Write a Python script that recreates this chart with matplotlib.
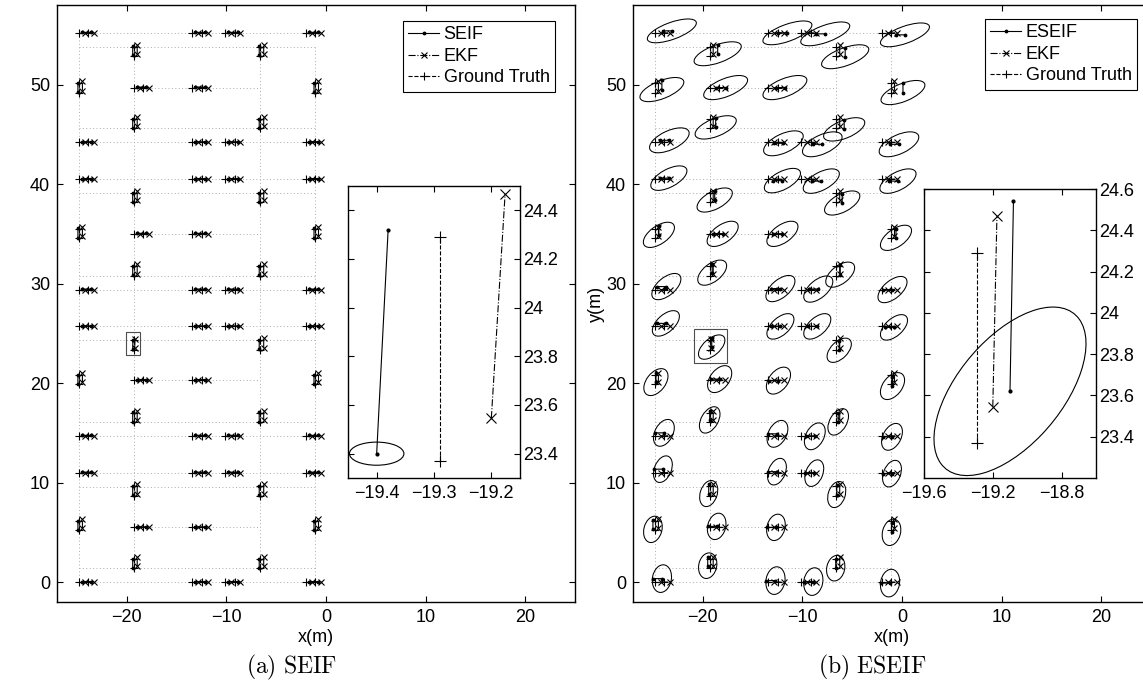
import numpy as np
import matplotlib
matplotlib.use("Agg")
import matplotlib.pyplot as plt
from matplotlib.patches import Ellipse, Rectangle
from matplotlib.ticker import FuncFormatter

plt.rcParams['font.family'] = ['Liberation Sans', 'DejaVu Sans']
plt.rcParams['mathtext.fontset'] = 'cm'

# ------------------------------------------------------------------ data
pair_gap = 0.92  # spacing of the two landmarks of one group (m)

grp_dir = ['h', 'h', 'h', 'h',
           'v', 'v',
           'v', 'h', 'h', 'v',
           'v', 'v',
           'h', 'h', 'h', 'h',
           'h', 'h', 'h', 'h',
           'v', 'v',
           'v', 'h', 'h', 'v',
           'v', 'v',
           'h', 'h', 'h', 'h',
           'h', 'h', 'h', 'h',
           'v',
           'v', 'h', 'h', 'v',
           'v', 'v',
           'h', 'h', 'h', 'h',
           'h', 'h', 'h', 'h',
           'v', 'v',
           'v', 'h', 'h', 'v',
           'v', 'v',
           'h', 'h', 'h', 'h']
grp_x = [-24.8, -13.4, -10.1, -2.0,
         -19.3, -6.6,
         -24.8, -19.3, -13.4, -1.1,
         -19.3, -6.6,
         -24.8, -13.4, -10.1, -2.0,
         -24.8, -13.4, -10.1, -2.0,
         -19.3, -6.6,
         -24.8, -19.3, -13.4, -1.1,
         -19.3, -6.6,
         -24.8, -13.4, -10.1, -2.0,
         -24.8, -13.4, -10.1, -2.0,
         -6.6,
         -24.8, -19.3, -13.4, -1.1,
         -19.3, -6.6,
         -24.8, -13.4, -10.1, -2.0,
         -24.8, -13.4, -10.1, -2.0,
         -19.3, -6.6,
         -24.8, -19.3, -13.4, -1.1,
         -19.3, -6.6,
         -24.8, -13.4, -10.1, -2.0]
grp_y = [55.2, 55.2, 55.2, 55.2,
         52.9, 52.9,
         49.2, 49.7, 49.7, 49.2,
         45.6, 45.6,
         44.2, 44.2, 44.2, 44.2,
         40.5, 40.5, 40.5, 40.5,
         38.2, 38.2,
         34.6, 35.0, 35.0, 34.6,
         30.8, 30.8,
         29.4, 29.4, 29.4, 29.4,
         25.7, 25.7, 25.7, 25.7,
         23.37,
         19.9, 20.3, 20.3, 19.9,
         16.1, 16.1,
         14.7, 14.7, 14.7, 14.7,
         11.0, 11.0, 11.0, 11.0,
         8.7, 8.7,
         5.2, 5.5, 5.5, 5.2,
         1.4, 1.4,
         0.0, 0.0, 0.0, 0.0]

# ESEIF covariance ellipses (main panel, right)
ell_x = [-23.1, -11.5, -7.7, 0.3,
         -18.5, -5.7,
         -24.1, -17.7, -11.75, 0.1,
         -18.7, -5.8,
         -23.35, -11.9, -8.0, -0.3,
         -23.4, -12.0, -8.1, -0.4,
         -18.8, -6.0,
         -24.4, -18.0, -12.0, -0.6,
         -19.05, -6.2,
         -23.65, -12.2, -8.4, -0.95,
         -23.7, -12.2, -8.5, -0.8,
         -6.3,
         -24.7, -18.3, -12.4, -0.95,
         -19.3, -6.4,
         -23.9, -12.5, -8.75, -1.0,
         -24.0, -12.55, -8.8, -1.0,
         -19.4, -6.55,
         -25.0, -18.6, -12.65, -1.05,
         -19.5, -6.65,
         -24.1, -12.7, -8.9, -1.2]
ell_y = [55.4, 55.2, 55.1, 55.0,
         53.1, 52.8,
         49.5, 49.7, 49.7, 49.2,
         45.7, 45.5,
         44.4, 44.1, 44.0, 44.0,
         40.6, 40.35, 40.3, 40.3,
         38.4, 38.1,
         34.9, 35.0, 35.0, 34.6,
         31.1, 30.9,
         29.7, 29.5, 29.45, 29.4,
         26.0, 25.7, 25.7, 25.6,
         23.3,
         20.1, 20.4, 20.25, 19.7,
         16.3, 16.1,
         15.0, 14.9, 14.65, 14.6,
         11.35, 11.1, 10.95, 10.9,
         8.9, 8.8,
         5.3, 5.6, 5.5, 5.0,
         1.65, 1.4,
         0.35, 0.15, 0.05, -0.1]
ell_w = [5.2, 5.2, 5.2, 5.2,
         5.0, 5.0,
         4.7, 4.7, 4.7, 4.7,
         4.4, 4.4,
         4.3, 4.3, 4.3, 4.3,
         4.0, 4.0, 4.0, 4.0,
         3.9, 3.9,
         3.6, 3.6, 3.6, 3.6,
         3.4, 3.4,
         3.5, 3.5, 3.5, 3.5,
         3.3, 3.3, 3.3, 3.3,
         3.0,
         3.1, 3.1, 3.1, 3.1,
         2.9, 2.9,
         2.9, 2.9, 2.9, 2.9,
         2.8, 2.8, 2.8, 2.8,
         2.7, 2.7,
         2.7, 2.7, 2.7, 2.7,
         2.6, 2.6,
         2.8, 2.8, 2.8, 2.8]
ell_h = [1.7, 1.7, 1.7, 1.7,
         1.8, 1.8,
         1.8, 1.8, 1.8, 1.8,
         1.8, 1.8,
         1.9, 1.9, 1.9, 1.9,
         1.8, 1.8, 1.8, 1.8,
         1.8, 1.8,
         1.8, 1.8, 1.8, 1.8,
         1.8, 1.8,
         1.8, 1.8, 1.8, 1.8,
         1.75, 1.75, 1.75, 1.75,
         1.7,
         1.9, 1.9, 1.9, 1.9,
         1.7, 1.7,
         1.8, 1.8, 1.8, 1.8,
         1.7, 1.7, 1.7, 1.7,
         1.7, 1.7,
         1.8, 1.8, 1.8, 1.8,
         1.8, 1.8,
         1.9, 1.9, 1.9, 1.9]
ell_ang = [20, 20, 20, 20,
           20, 20,
           22, 22, 22, 22,
           22, 22,
           25, 25, 25, 25,
           28, 28, 28, 28,
           28, 28,
           35, 35, 35, 35,
           38, 38,
           40, 40, 40, 40,
           42, 42, 42, 42,
           45,
           52, 52, 52, 52,
           60, 60,
           62, 62, 62, 62,
           68, 68, 68, 68,
           72, 72,
           75, 75, 75, 75,
           78, 78,
           80, 80, 80, 80]

# estimate offsets from ground truth: (along group, perpendicular)
ekf_off = {'h': (0.60, 0.00), 'v': (0.20, 0.35)}
seif_off = {'h': (0.30, 0.05), 'v': (0.03, -0.10)}

# zoomed landmark pair (boxed)
box_gt_x = [-19.29, -19.29]
box_gt_y = [23.37, 24.29]
box_ekf_x = [-19.20, -19.176]
box_ekf_y = [23.546, 24.467]
box_seif_x = [-19.40, -19.38]
box_seif_y = [23.40, 24.32]
box_eseif_x = [-19.10, -19.08]
box_eseif_y = [23.62, 24.54]
box_seif_ell = (0.095, 0.095, 0.0)      # w, h, angle (inset)
box_eseif_ell = (1.066, 0.558, 41.0)    # w, h, angle (inset)
box_eseif_ell_main = (3.2, 1.67, 41.0)  # 3-sigma version in main panel

# dotted robot path
path_full_y = [55.2, 53.8, 45.6, 44.2, 40.5, 39.1, 30.8, 29.4,
               25.7, 24.3, 16.1, 14.7, 11.0, 9.6, 1.4, 0.0]
path_full_x = (-24.8, -1.1)
path_part_y = [49.7, 35.0, 20.3, 5.5]
path_part_x = (-19.3, -6.6)
path_v_x = [-24.8, -19.3, -6.6, -1.1]
path_v_y0 = [0.0, 1.4, 1.4, 0.0]
path_v_y1 = [55.2, 53.8, 53.8, 53.8]


# ------------------------------------------------------------------ helpers
def pair_xy(off, xs_extra, ys_extra):
    xs, ys = [], []
    for d, gx, gy in zip(grp_dir, grp_x, grp_y):
        a, p = off[d] if off is not None else (0.0, 0.0)
        if d == 'h':
            xs += [gx + a, gx + pair_gap + a, np.nan]
            ys += [gy + p, gy + p, np.nan]
        else:
            xs += [gx + p, gx + p, np.nan]
            ys += [gy + a, gy + pair_gap + a, np.nan]
    xs += list(xs_extra) + [np.nan]
    ys += list(ys_extra) + [np.nan]
    return np.array(xs), np.array(ys)


def eseif_xy():
    xs, ys = [], []
    for d, cx, cy in zip(grp_dir, ell_x, ell_y):
        if d == 'h':
            xs += [cx - pair_gap, cx, np.nan]
            ys += [cy, cy, np.nan]
        else:
            xs += [cx, cx, np.nan]
            ys += [cy, cy + pair_gap, np.nan]
    xs += box_eseif_x + [np.nan]
    ys += box_eseif_y + [np.nan]
    return np.array(xs), np.array(ys)


gt_x, gt_y = pair_xy(None, box_gt_x, box_gt_y)
ekf_x, ekf_y = pair_xy(ekf_off, box_ekf_x, box_ekf_y)
seif_x, seif_y = pair_xy(seif_off, box_seif_x, box_seif_y)
es_x, es_y = eseif_xy()

fmt = FuncFormatter(lambda v, p: ('%g' % round(v, 6)).replace('-', '\u2212'))

W, H = 1143, 691
fig = plt.figure(figsize=(W / 100, H / 100), dpi=100)


def px_axes(x0, y0, x1, y1, **kw):
    return fig.add_axes([x0 / W, 1 - y1 / H, (x1 - x0) / W, (y1 - y0) / H], **kw)


LW = 0.8
MS = 5.5
style_gt = dict(color='k', ls='--', marker='+', lw=LW, ms=MS, mew=0.8)
style_ekf = dict(color='k', ls='-.', marker='x', lw=LW, ms=MS - 0.5, mew=0.8)
style_est = dict(color='k', ls='-', marker='.', lw=LW, ms=3.5)
path_style = dict(color='0.68', ls=(0, (1, 2.5)), lw=0.7, zorder=1)


def draw_main(ax, est_x, est_y):
    for yy in path_full_y:
        ax.plot(path_full_x, (yy, yy), **path_style)
    for yy in path_part_y:
        ax.plot(path_part_x, (yy, yy), **path_style)
    for xx, y0, y1 in zip(path_v_x, path_v_y0, path_v_y1):
        ax.plot((xx, xx), (y0, y1), **path_style)
    h_gt, = ax.plot(gt_x, gt_y, zorder=3, **style_gt)
    h_ekf, = ax.plot(ekf_x, ekf_y, zorder=3, **style_ekf)
    h_est, = ax.plot(est_x, est_y, zorder=4, **style_est)
    ax.set_xlim(-27, 25)
    ax.set_ylim(-2, 58)
    ax.set_xticks([-20, -10, 0, 10, 20])
    ax.set_yticks([0, 10, 20, 30, 40, 50])
    ax.xaxis.set_major_formatter(fmt)
    ax.yaxis.set_major_formatter(fmt)
    ax.tick_params(direction='in', top=True, right=True, length=4, width=0.8,
                   labelsize=13, pad=5)
    for s in ax.spines.values():
        s.set_linewidth(1.0)
    ax.set_xlabel('x(m)', fontsize=13, labelpad=2)
    return h_est, h_ekf, h_gt


def style_inset(ax, xlim, ylim, xt, yt):
    ax.set_xlim(*xlim)
    ax.set_ylim(*ylim)
    ax.set_xticks(xt)
    ax.set_yticks(yt)
    ax.xaxis.set_major_formatter(fmt)
    ax.yaxis.set_major_formatter(fmt)
    ax.yaxis.tick_right()
    ax.tick_params(direction='in', top=True, left=True, right=True, bottom=True,
                   labelleft=False, labelright=True, length=4, width=0.8,
                   labelsize=13)
    ax.tick_params(axis='y', pad=2)
    ax.tick_params(axis='x', pad=5)
    for s in ax.spines.values():
        s.set_linewidth(1.0)


leg_kw = dict(fontsize=13, frameon=True, fancybox=False, edgecolor='k',
              framealpha=1, handlelength=1.7, handletextpad=0.25,
              borderpad=0.3, labelspacing=0.25, borderaxespad=0, numpoints=1)

# ------------------------------------------------------------------ left: SEIF
axL = px_axes(57, 5, 575, 602)
hs = draw_main(axL, seif_x, seif_y)
axL.add_patch(Rectangle((-20.1, 22.8), 1.4, 2.35, fill=False, ec='0.3', lw=0.8, zorder=5))
leg = axL.legend(hs, ['SEIF', 'EKF', 'Ground Truth'], loc='upper right',
                 bbox_to_anchor=(555 / W, 1 - 21 / H), bbox_transform=fig.transFigure, **leg_kw)
leg.get_frame().set_linewidth(0.8)

insL = px_axes(348, 186, 520, 478)
insL.plot(box_seif_x, box_seif_y, **dict(style_est, ms=4))
insL.plot(box_gt_x, box_gt_y, **dict(style_gt, ms=8))
insL.plot(box_ekf_x, box_ekf_y, **dict(style_ekf, ms=7))
insL.add_patch(Ellipse((box_seif_x[0], box_seif_y[0]), box_seif_ell[0], box_seif_ell[1],
                       angle=box_seif_ell[2], fill=False, ec='k', lw=0.8))
style_inset(insL, (-19.45, -19.15), (23.3, 24.5), [-19.4, -19.3, -19.2],
            [23.4, 23.6, 23.8, 24.0, 24.2, 24.4])

# ------------------------------------------------------------------ right: ESEIF
axR = px_axes(633, 5, 1151, 602)
hs = draw_main(axR, es_x, es_y)
for cx, cy, w, h, a in zip(ell_x, ell_y, ell_w, ell_h, ell_ang):
    axR.add_patch(Ellipse((cx, cy), w, h, angle=a, fill=False, ec='k', lw=0.75, zorder=2))
axR.add_patch(Ellipse((box_eseif_x[0], box_eseif_y[0]), box_eseif_ell_main[0],
                      box_eseif_ell_main[1], angle=box_eseif_ell_main[2],
                      fill=False, ec='k', lw=0.75, zorder=2))
axR.add_patch(Rectangle((-20.9, 22.0), 3.3, 3.4, fill=False, ec='0.3', lw=0.8, zorder=5))
axR.set_ylabel('y(m)', fontsize=13, labelpad=1)
leg = axR.legend(hs, ['ESEIF', 'EKF', 'Ground Truth'], loc='upper right',
                 bbox_to_anchor=(1137 / W, 1 - 19 / H), bbox_transform=fig.transFigure, **leg_kw)
leg.get_frame().set_linewidth(0.8)

insR = px_axes(924, 189, 1096, 478)
insR.plot(box_eseif_x, box_eseif_y, **dict(style_est, ms=4))
insR.plot(box_gt_x, box_gt_y, **dict(style_gt, ms=8))
insR.plot(box_ekf_x, box_ekf_y, **dict(style_ekf, ms=7))
insR.add_patch(Ellipse((box_eseif_x[0], box_eseif_y[0]), box_eseif_ell[0], box_eseif_ell[1],
                       angle=box_eseif_ell[2], fill=False, ec='k', lw=0.8))
style_inset(insR, (-19.6, -18.6), (23.2, 24.6), [-19.6, -19.2, -18.8],
            [23.4, 23.6, 23.8, 24.0, 24.2, 24.4, 24.6])

# captions
fig.text(292 / W, 1 - 667 / H, r'$\mathrm{(a)\ SEIF}$', fontsize=17, ha='center', va='center')
fig.text(872 / W, 1 - 667 / H, r'$\mathrm{(b)\ ESEIF}$', fontsize=17, ha='center', va='center')

fig.savefig('out.png', dpi=100)
